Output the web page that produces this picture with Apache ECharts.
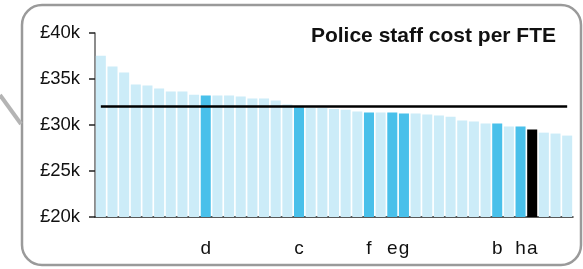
<!DOCTYPE html>
<html>
<head>
<meta charset="utf-8">
<script src="https://cdn.jsdelivr.net/npm/echarts@6/dist/echarts.min.js"></script>
<style>
html, body { margin: 0; padding: 0; background: #fff; }
#chart { width: 583px; height: 269px; }
</style>
</head>
<body>
<div id="chart"></div>
<script>
'use strict';

// force labels under the bars (blank = unnamed force)
const forces = [
  '', '', '', '', '', '', '', '', '', 'd',
  '', '', '', '', '', '', '', 'c', '', '',
  '', '', '', 'f', '', 'e', 'g', '', '', '',
  '', '', '', '', 'b', '', 'h', 'a', '', '', ''
];

// cost per FTE, £
const costs = [
  37540, 36350, 35700, 34390, 34280, 33960, 33630, 33630, 33300, 33200,
  33200, 33200, 33090, 32870, 32870, 32650, 32220, 31930, 31860, 31860,
  31750, 31670, 31460, 31350, 31350, 31350, 31240, 31240, 31130, 31020,
  30910, 30480, 30370, 30150, 30150, 29830, 29830, 29500, 29170, 29070,
  28850
];

const peers = ['b', 'c', 'd', 'e', 'f', 'g', 'h'];
const focus = 'a';
const average = 32000;

const yTicks = [20000, 25000, 30000, 35000, 40000];

const title = 'Police staff cost per FTE';

///// 描画 /////

const font = '"Liberation Sans", Arial, sans-serif';

const barData = costs.map((v, i) => {
  let color = '#ccecf8';
  if (forces[i] === focus) color = '#000000';
  else if (peers.indexOf(forces[i]) >= 0) color = '#49c0ea';
  return { value: v, itemStyle: { color: color } };
});

const chart = echarts.init(document.getElementById('chart'), null, { renderer: 'canvas' });

chart.setOption({
  animation: false,
  grid: { left: 95, right: 10, top: 33, bottom: 52 },
  title: {
    text: title,
    right: 22,
    top: 21,
    textStyle: { fontFamily: font, fontSize: 21, fontWeight: 'bold', color: '#111' }
  },
  xAxis: {
    type: 'category',
    data: forces,
    axisLine: { lineStyle: { color: '#222', width: 1.5 } },
    axisTick: { show: false },
    axisLabel: { interval: 0, margin: 22, fontFamily: font, fontSize: 19, color: '#111' }
  },
  yAxis: {
    type: 'value',
    min: yTicks[0],
    max: yTicks[yTicks.length - 1],
    interval: 5000,
    splitLine: { show: false },
    axisLine: { show: true, lineStyle: { color: '#666', width: 1.5 } },
    axisTick: { show: true, length: 6, lineStyle: { color: '#222', width: 1.5 } },
    axisLabel: {
      margin: 15,
      fontFamily: font,
      fontSize: 18.5,
      color: '#111',
      formatter: v => '£' + (v / 1000) + 'k'
    }
  },
  series: [{
    type: 'bar',
    data: barData,
    barCategoryGap: '14%',
    markLine: {
      silent: true,
      symbol: ['none', 'none'],
      label: { show: false },
      lineStyle: { color: '#000', width: 2.5, type: 'solid' },
      data: [[{ coord: [0, average] }, { coord: [costs.length - 1, average] }]]
    }
  }],
  graphic: [
    {
      type: 'rect',
      shape: { x: 22, y: 5, width: 559, height: 260, r: 20 },
      style: { fill: 'none', stroke: '#9a9a9a', lineWidth: 2.5 },
      z: -1
    },
    {
      type: 'line',
      shape: { x1: 0, y1: 95, x2: 21, y2: 124 },
      style: { stroke: '#b4b4b4', lineWidth: 4 },
      z: -1
    }
  ]
});
</script>
</body>
</html>
